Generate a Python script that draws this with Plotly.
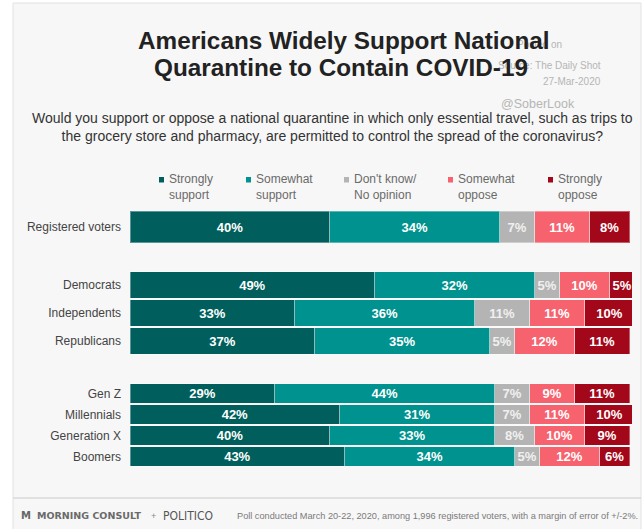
import plotly.graph_objects as go

# ---------------- data ----------------
categories = ["Registered voters", "Democrats", "Independents", "Republicans",
              "Gen Z", "Millennials", "Generation X", "Boomers"]
group_of = [0, 1, 1, 1, 2, 2, 2, 2]
series_names = ["Strongly<br>support", "Somewhat<br>support", "Don't know/<br>No opinion",
                "Somewhat<br>oppose", "Strongly<br>oppose"]
strongly_support = [40, 49, 33, 37, 29, 42, 40, 43]
somewhat_support = [34, 32, 36, 35, 44, 31, 33, 34]
dont_know = [7, 5, 11, 5, 7, 7, 8, 5]
somewhat_oppose = [11, 10, 11, 12, 9, 11, 10, 12]
strongly_oppose = [8, 5, 10, 11, 11, 10, 9, 6]
series_values = [strongly_support, somewhat_support, dont_know, somewhat_oppose, strongly_oppose]

# ---------------- styles ----------------
colors = ["#005f5c", "#00928e", "#b4b4b4", "#f6636f", "#a3071a"]
text_colors = ["white", "white", "#f0f0f0", "white", "white"]
FONT = "Arial, Liberation Sans, Helvetica, sans-serif"
W, H = 643, 529
L, R, T, B = 130, 11, 210, 62
PW, PH = W - L - R, H - T - B


def px_x(px):
    return (px - L) / PW


def px_y(py):
    return (H - B - py) / PH


domains = [[px_y(244), 1.0], [px_y(355), px_y(271)], [0.0, px_y(383)]]
axis_names = ["y", "y2", "y3"]

fig = go.Figure()
for s, (name, vals) in enumerate(zip(series_names, series_values)):
    for g in range(3):
        cats = [c for c, gg in zip(categories, group_of) if gg == g]
        xs = [v for v, gg in zip(vals, group_of) if gg == g]
        fig.add_trace(go.Bar(
            y=cats, x=xs, orientation="h", name=name, yaxis=axis_names[g], xaxis="x",
            marker=dict(color=colors[s], line=dict(color="rgba(255,255,255,0.35)", width=1)),
            text=[f"{v}%" for v in xs], textposition="inside", insidetextanchor="middle",
            textangle=0, constraintext="none",
            textfont=dict(family=FONT, size=13, color=text_colors[s], weight="bold"),
            showlegend=False, hoverinfo="x+y+name",
        ))

layout_axes = {}
for g in range(3):
    key = "yaxis" if g == 0 else f"yaxis{g + 1}"
    cats = [c for c, gg in zip(categories, group_of) if gg == g]
    layout_axes[key] = dict(
        domain=domains[g], anchor="x", categoryorder="array", categoryarray=cats,
        autorange="reversed", showgrid=False, zeroline=False, showline=False,
        ticks="", ticklabelstandoff=8,
        tickfont=dict(family=FONT, size=12, color="#444444"),
    )

annotations = []
# watermark (drawn first so the title sits over it, as in the original)
wm = dict(color="#b5b5b5", family=FONT)
annotations += [
    dict(text="Posted on", x=px_x(564), y=px_y(44), xanchor="right", yanchor="middle",
         font=dict(size=10, **wm)),
    dict(text="Source: The Daily Shot", x=px_x(603), y=px_y(65), xanchor="right", yanchor="middle",
         font=dict(size=10, **wm)),
    dict(text="27-Mar-2020", x=px_x(603), y=px_y(81), xanchor="right", yanchor="middle",
         font=dict(size=10, **wm)),
    dict(text="@SoberLook", x=px_x(577), y=px_y(104), xanchor="right", yanchor="middle",
         font=dict(size=12.5, **wm)),
]
# title
annotations += [
    dict(text="<b>Americans Widely Support National</b>", x=px_x(344), y=px_y(41),
         xanchor="center", yanchor="middle", font=dict(family=FONT, size=24.3, color="#222222")),
    dict(text="<b>Quarantine to Contain COVID-19</b>", x=px_x(341), y=px_y(67),
         xanchor="center", yanchor="middle", font=dict(family=FONT, size=24.3, color="#222222")),
    dict(text="Would you support or oppose a national quarantine in which only essential travel, such as trips to"
              "<br>the grocery store and pharmacy, are permitted to control the spread of the coronavirus?",
         x=px_x(332), y=px_y(126.5), xanchor="center", yanchor="middle", align="center",
         font=dict(family=FONT, size=14, color="#333333")),
]
# legend
legend_sq_x = [159, 246, 344, 448, 548]
shapes = [
    dict(type="rect", xref="paper", yref="paper", x0=px_x(13), x1=px_x(641), y0=px_y(3), y1=px_y(540),
         fillcolor="#f7f7f7", line=dict(color="#e2e2e2", width=1), layer="below"),
    dict(type="line", xref="paper", yref="paper", x0=px_x(13), x1=px_x(641), y0=px_y(498), y1=px_y(498),
         line=dict(color="#cccccc", width=1.2)),
]
for s, name in enumerate(series_names):
    sx = legend_sq_x[s]
    shapes.append(dict(type="rect", xref="paper", yref="paper", x0=px_x(sx), x1=px_x(sx + 5),
                       y0=px_y(182.5), y1=px_y(177), fillcolor=colors[s], line=dict(width=0)))
    annotations.append(dict(text=name, x=px_x(sx + 8), y=px_y(186.5), xanchor="left", yanchor="middle",
                            align="left", font=dict(family=FONT, size=12, color="#6a6a6a")))
# footer
annotations += [
    dict(text="<b>M</b>", x=px_x(19), y=px_y(515.5), xanchor="left", yanchor="middle",
         font=dict(family="DejaVu Sans", size=10, color="#666666")),
    dict(text="<b>MORNING CONSULT</b>", x=px_x(35), y=px_y(515.5), xanchor="left", yanchor="middle",
         font=dict(family="DejaVu Sans", size=9.5, color="#6a6a6a")),
    dict(text="+", x=px_x(149), y=px_y(515.5), xanchor="left", yanchor="middle",
         font=dict(family=FONT, size=9, color="#888888")),
    dict(text="POLITICO", x=px_x(161), y=px_y(516), xanchor="left", yanchor="middle",
         font=dict(family="DejaVu Sans Condensed, Liberation Sans Narrow, Liberation Sans", size=12,
                   color="#555555")),
    dict(text="Poll conducted March 20-22, 2020, among 1,996 registered voters, with a margin of error of +/-2%.",
         x=px_x(640), y=px_y(515.5), xanchor="right", yanchor="middle",
         font=dict(family=FONT, size=9.2, color="#7a7a7a")),
]
for a in annotations:
    a.update(xref="paper", yref="paper", showarrow=False)

fig.update_layout(
    width=W, height=H, margin=dict(l=L, r=R, t=T, b=B, pad=0),
    barmode="stack", bargap=0.06,
    paper_bgcolor="white", plot_bgcolor="rgba(0,0,0,0)",
    xaxis=dict(range=[0, 100.5], visible=False, anchor="y3", fixedrange=True),
    annotations=annotations, shapes=shapes,
    font=dict(family=FONT), showlegend=False,
    **layout_axes,
)

fig.write_html("out.html")
